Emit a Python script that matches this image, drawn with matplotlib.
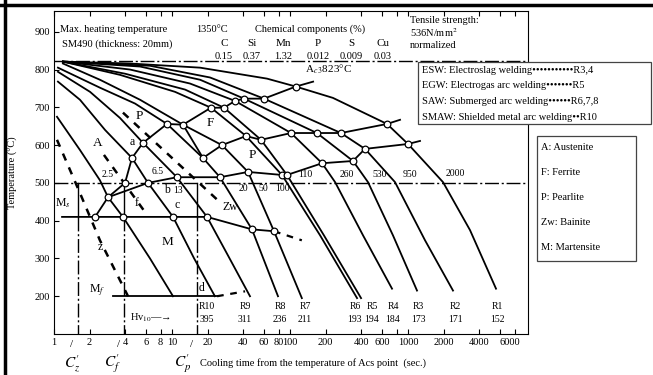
import matplotlib
matplotlib.use("Agg")
import matplotlib.pyplot as plt
import matplotlib.transforms as mtransforms
from matplotlib.patches import Rectangle
from matplotlib.lines import Line2D

plt.rcParams['font.family'] = ['Liberation Serif', 'DejaVu Serif']
plt.rcParams['mathtext.fontset'] = 'stix'

# cooling curves: time (s) and temperature (C)
c1_t = [1.06, 1.66, 2.45, 2.87, 3.84, 6.51, 10.2]
c1_T = [675, 587, 507, 462, 410, 300, 200]
r10_t = [1.08, 1.66, 2.71, 4.58, 6.26, 10.2, 15.4, 23.1]
r10_T = [768, 720, 640, 566, 500, 410, 300, 200]
r9_t = [1.08, 2.02, 3.62, 5.68, 11.0, 19.8, 29.8, 45.8]
r9_T = [794, 741, 672, 606, 515, 410, 308, 200]
r8_t = [1.08, 2.45, 4.86, 9.07, 18.3, 25.5, 47.6, 79.1]
r8_T = [805, 752, 710, 656, 566, 515, 377, 200]
r7_t = [1.19, 2.45, 5.36, 12.4, 26.5, 44.1, 73.2, 126]
r7_T = [816, 773, 720, 654, 600, 529, 372, 195]
r6_t = [1.19, 3.62, 10.6, 21.4, 42.4, 85.5, 180, 370]
r6_T = [821, 786, 741, 699, 624, 521, 361, 195]
r5_t = [1.19, 4.0, 12.9, 27.6, 56.8, 94.3, 194, 400]
r5_T = [821, 789, 747, 699, 614, 521, 361, 195]
r4_t = [1.19, 4.41, 14.2, 34.2, 102, 187, 241, 416, 732]
r4_T = [821, 800, 763, 717, 632, 552, 502, 361, 220]
r3_t = [1.19, 5.36, 17.3, 40.8, 169, 342, 458, 746, 1192]
r3_T = [821, 808, 773, 723, 632, 558, 502, 361, 215]
r2_t = [1.19, 6.51, 21.0, 60.2, 270, 432, 776, 1394, 2406]
r2_T = [821, 810, 779, 723, 632, 590, 502, 348, 215]
r1_t = [1.19, 4.41, 17.3, 63.8, 112, 231, 664, 1000, 1980, 3353, 5569]
r1_T = [821, 816, 805, 776, 755, 725, 656, 603, 502, 375, 220]

# transformation curves
fs_t = [2.23, 2.87, 4.0, 4.58, 5.68, 9.07, 12.4, 21.4, 27.6, 34.2, 40.8, 60.2, 112, 157]
fs_T = [410, 462, 500, 566, 606, 656, 654, 699, 699, 717, 723, 723, 755, 768]
ps_t = [12.4, 18.3, 26.5, 42.4, 56.8, 102, 169, 270, 664, 856]
ps_T = [654, 566, 600, 624, 614, 632, 632, 632, 656, 667]
bs_t = [2.87, 6.26, 11.0, 25.5, 44.1, 85.5, 94.3, 187, 342, 432, 1000, 1264]
bs_T = [462, 500, 515, 515, 529, 521, 521, 552, 558, 590, 603, 611]
ms_t = [1.17, 19.8, 47.6, 73.2]
ms_T = [410, 410, 377, 372]
ms_ext_t = [73.2, 126]
ms_ext_T = [372, 348]
ms_cross_t = [3.84, 10.2, 19.8, 47.6, 73.2]
ms_cross_T = [410, 410, 410, 377, 372]
mf_t = [3.16, 24.1]
mf_T = [200, 200]
mf_ext_t = [24.1, 41.6]
mf_ext_T = [200, 213]

# dashed critical curves
dz_t = [1.06, 1.66, 2.45, 4.24]
dz_T = [614, 473, 348, 200]
df_t = [2.65, 5.90]
df_T = [574, 423]
dp_t = [3.84, 26.5]
dp_T = [686, 444]

ac3 = 823
t500 = 500
crit_t = [1.60, 3.92, 16.3]

curve_names = ["R10", "R9", "R8", "R7", "R6", "R5", "R4", "R3", "R2", "R1"]
hardness = [395, 311, 236, 211, 193, 194, 184, 173, 171, 152]
name_t = [19.8, 41.6, 82.3, 134, 355, 495, 746, 1215, 2502, 5679]

t500_labels = ["2.5", "6.5", "13", "20", "50", "100", "110", "260", "530", "950", "2000"]
t500_lab_t = [2.87, 7.61, 11.2, 40.0, 59.0, 87.2, 134, 304, 579, 1040, 2502]
t500_lab_T = [521, 529, 481, 486, 486, 486, 523, 523, 523, 523, 526]

elements = ["C", "Si", "Mn", "P", "S", "Cu"]
composition = ["0.15", "0.37", "1.32", "0.012", "0.009", "0.03"]
elem_t = [27.6, 47.6, 87.2, 172.7, 328.7, 614]

xticks = [1, 2, 4, 6, 8, 10, 20, 40, 60, 80, 100, 200, 400, 600, 800, 1000, 2000, 4000, 6000, 8000]
xticklabels = ["1", "2", "4", "6", "8", "10", "20", "40", "60", "80", "100", "200", "400", "600", "",
               "1000", "2000", "4000", "6000", ""]

fig = plt.figure(figsize=(6.53, 3.75), dpi=100)
ax = fig.add_axes([0.0827, 0.1093, 0.7259, 0.8614])
ax.set_xscale('log')
ax.set_xlim(1, 10400)
ax.set_ylim(100, 955)

cooling = [(c1_t, c1_T), (r10_t, r10_T), (r9_t, r9_T), (r8_t, r8_T), (r7_t, r7_T),
           (r6_t, r6_T), (r5_t, r5_T), (r4_t, r4_T), (r3_t, r3_T), (r2_t, r2_T), (r1_t, r1_T)]
for t, T in cooling:
    ax.plot(t, T, color='k', lw=1.3, zorder=2)

dashdot = (0, (10, 2, 1.5, 2))
ax.plot([1, 10400], [ac3, ac3], color='k', lw=1, ls=dashdot)
ax.plot([1, 10400], [t500, t500], color='k', lw=1, ls=dashdot)
for tc in crit_t:
    ax.plot([tc, tc], [t500, 410], color='k', lw=1)
    ax.plot([tc, tc], [410, 100], color='k', lw=1, ls=dashdot)

ax.plot(fs_t, fs_T, color='k', lw=1.3, zorder=2)
ax.plot(ps_t, ps_T, color='k', lw=1.3, zorder=2)
ax.plot(bs_t, bs_T, color='k', lw=1.3, zorder=2)
ax.plot(ms_t, ms_T, color='k', lw=1.3, zorder=2)
ax.plot(ms_ext_t, ms_ext_T, color='k', lw=1.6, ls=(0, (3, 3)))
ax.plot(mf_t, mf_T, color='k', lw=1.3)
ax.plot(mf_ext_t, mf_ext_T, color='k', lw=1.6, ls=(0, (3, 3)))

for t, T in [(dz_t, dz_T), (df_t, df_T), (dp_t, dp_T)]:
    ax.plot(t, T, color='k', lw=1.8, ls=(0, (3, 3)))

circ = dict(ls='none', marker='o', ms=4.8, mfc='white', mec='k', mew=0.9, zorder=4)
ax.plot(fs_t[:-1], fs_T[:-1], **circ)
ax.plot(ps_t[1:-1], ps_T[1:-1], **circ)
ax.plot(bs_t[1:-1], bs_T[1:-1], **circ)
ax.plot(ms_cross_t, ms_cross_T, **circ)

ax.set_xticks(xticks)
ax.set_xticklabels(xticklabels)
ax.minorticks_off()
ax.set_yticks(range(200, 1000, 100))
ax.tick_params(direction='in', top=True, length=3.5, width=0.8, labelsize=7.5, pad=3)
# the 6000 label sits a little right of its tick in the original
lbl6000 = ax.get_xticklabels()[18]
lbl6000.set_transform(lbl6000.get_transform() + mtransforms.ScaledTranslation(0.1, 0, fig.dpi_scale_trans))
for s in ax.spines.values():
    s.set_linewidth(0.8)
ax.set_ylabel("Temperature (°C)", fontsize=7.5)
ax.yaxis.set_label_coords(-0.075, 0.5)

fs = 7.5
# table at the top
ax.text(1.12, 906, "Max. heating temperature", fontsize=fs, va='center')
ax.text(21.8, 906, "1350°C", fontsize=fs, va='center', ha='center')
ax.text(1.17, 866, "SM490 (thickness: 20mm)", fontsize=fs, va='center')
ax.text(147.7, 906, "Chemical components (%)", fontsize=fs, va='center', ha='center')
for t, el, val in zip(elem_t, elements, composition):
    ax.text(t, 869, el, fontsize=fs + 0.5, va='center', ha='center')
    ax.text(t, 834, val, fontsize=fs, va='center', ha='center')
ax.text(1040, 930, "Tensile strength:", fontsize=fs, va='center')
ax.text(1040, 898, "536N/mm$^2$", fontsize=fs, va='center')
ax.text(1040, 864, "normalized", fontsize=fs, va='center')
ax.text(134, 800, "A$_{c\\,3}$823°C", fontsize=8, va='center')

# region letters
ax.text(2.36, 606, "A", fontsize=9.5, ha='center', va='center')
ax.text(5.25, 677, "P", fontsize=9.5, ha='center', va='center')
ax.text(4.58, 608, "a", fontsize=8.5, ha='center', va='center')
ax.text(21.0, 659, "F", fontsize=9.5, ha='center', va='center')
ax.text(47.6, 574, "P", fontsize=9.5, ha='center', va='center')
ax.text(9.07, 481, "b", fontsize=8.5, ha='center', va='center')
ax.text(5.05, 446, "f", fontsize=8.5, ha='center', va='center')
ax.text(11.0, 441, "c", fontsize=8.5, ha='center', va='center')
ax.text(31.0, 436, "Zw", fontsize=8.5, ha='center', va='center')
ax.text(9.07, 343, "M", fontsize=9.5, ha='center', va='center')
ax.text(2.45, 329, "z", fontsize=8.5, ha='center', va='center')
ax.text(17.9, 223, "d", fontsize=8.5, ha='center', va='center')
ax.text(1.19, 446, "M$_s$", fontsize=8.5, ha='center', va='center')
ax.text(2.31, 215, "M$_f$", fontsize=8.5, ha='center', va='center')
ax.text(4.41, 143, "Hv$_{10}$\u2014\u2192", fontsize=7.5, va='center')

for lab, t, T in zip(t500_labels, t500_lab_t, t500_lab_T):
    ax.text(t, T, lab, fontsize=7, ha='center', va='center')
for name, h, t in zip(curve_names, hardness, name_t):
    ax.text(t, 172, name, fontsize=7, ha='center', va='center')
    ax.text(t, 138, str(h), fontsize=7, ha='center', va='center')

# x-axis annotations
trans = mtransforms.blended_transform_factory(ax.transData, ax.transAxes)
for t in [1.42, 3.55, 14.7]:
    ax.text(t, -0.034, "/", transform=trans, fontsize=8, ha='center', va='center')
ax.text(1.42, -0.092, "$C_z^{\\prime}$", transform=trans, fontsize=11, ha='center', va='center')
ax.text(3.10, -0.092, "$C_f^{\\prime}$", transform=trans, fontsize=11, ha='center', va='center')
ax.text(12.4, -0.092, "$C_p^{\\prime}$", transform=trans, fontsize=11, ha='center', va='center')
ax.text(17.3, -0.090, "Cooling time from the temperature of Acs point  (sec.)", transform=trans,
        fontsize=fs, va='center')

# legend boxes
fig.add_artist(Rectangle((0.640, 0.669), 0.357, 0.166, transform=fig.transFigure,
                         facecolor='white', edgecolor='#444444', lw=0.9, zorder=10))
weld = ["ESW: Electroslag welding\u2022\u2022\u2022\u2022\u2022\u2022\u2022\u2022\u2022\u2022\u2022R3,4",
        "EGW: Electrogas arc welding\u2022\u2022\u2022\u2022\u2022\u2022\u2022R5",
        "SAW: Submerged arc welding\u2022\u2022\u2022\u2022\u2022\u2022R6,7,8",
        "SMAW: Shielded metal arc welding\u2022\u2022R10"]
for i, line in enumerate(weld):
    fig.text(0.646, 0.813 - i * 0.0417, line, fontsize=fs, va='center', zorder=11)

fig.add_artist(Rectangle((0.822, 0.304), 0.152, 0.333, transform=fig.transFigure,
                         facecolor='white', edgecolor='#444444', lw=0.9, zorder=10))
phases = ["A: Austenite", "F: Ferrite", "P: Pearlite", "Zw: Bainite", "M: Martensite"]
for i, line in enumerate(phases):
    fig.text(0.828, 0.608 - i * 0.0667, line, fontsize=fs, va='center', zorder=11)

# scan border
fig.add_artist(Line2D([0, 1], [0.988, 0.988], transform=fig.transFigure, color='k', lw=2.5))
fig.add_artist(Line2D([0.007, 0.007], [0, 1], transform=fig.transFigure, color='k', lw=2.5))

fig.savefig("out.png", dpi=100)
